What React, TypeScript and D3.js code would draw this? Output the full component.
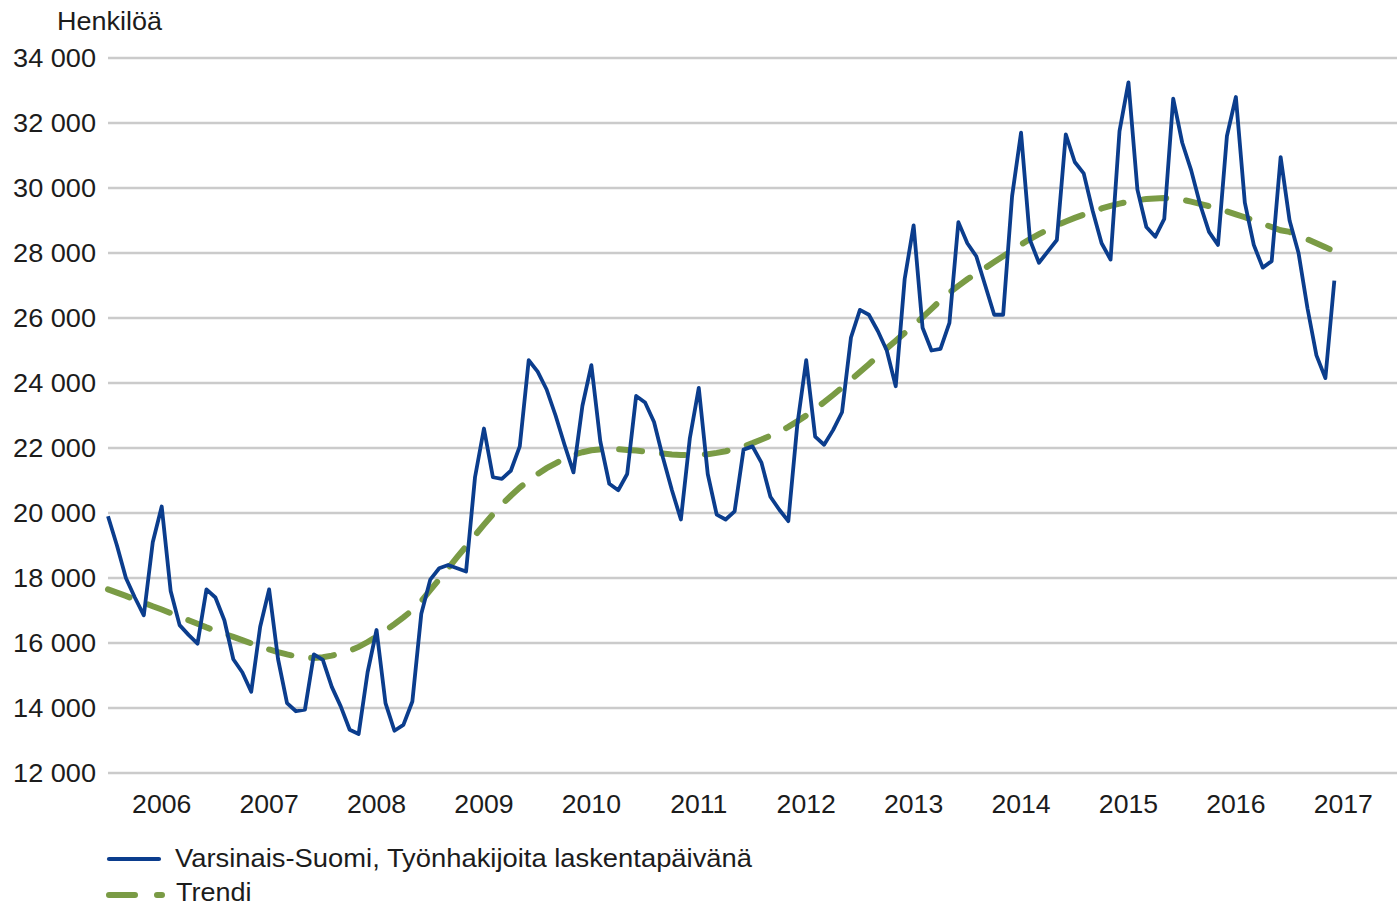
import React from "react";
import * as d3 from "d3";

const years = ["2006","2007","2008","2009","2010","2011","2012","2013","2014","2015","2016","2017"];
const yTicks = [12000,14000,16000,18000,20000,22000,24000,26000,28000,30000,32000,34000];
const seriesNames = ["Varsinais-Suomi, Työnhakijoita laskentapäivänä", "Trendi"];
const yLabel = "Henkilöä";

// Monthly values Jan 2006 – Jun 2017
const jobSeekers = [
  19900,19000,18000,17400,16850,19100,20200,17600,16550,16250,15980,17650,
  17400,16700,15500,15100,14500,16500,17650,15500,14150,13900,13950,15650,
  15480,14650,14050,13330,13200,15100,16400,14150,13300,13480,14200,16900,
  17950,18300,18400,18300,18200,21100,22600,21100,21050,21300,22050,24700,
  24350,23800,23000,22100,21250,23300,24550,22200,20900,20700,21200,23600,
  23400,22800,21700,20700,19800,22300,23850,21200,19950,19800,20050,21950,
  22050,21550,20500,20100,19750,22700,24700,22350,22100,22550,23100,25400,
  26250,26100,25600,25000,23900,27200,28850,25700,25000,25050,25850,28950,
  28300,27900,27000,26100,26100,29750,31700,28400,27700,28050,28400,31650,
  30800,30450,29300,28300,27800,31750,33250,29950,28800,28500,29050,32750,
  31400,30550,29500,28650,28250,31600,32800,29550,28250,27550,27750,30950,
  29000,28000,26300,24850,24150,27150
];

const trend = [
  17650,17550,17450,17340,17240,17130,17030,16920,16810,16700,16590,16480,
  16380,16280,16190,16090,15990,15890,15800,15720,15650,15590,15550,15540,
  15560,15610,15680,15760,15880,16030,16200,16380,16580,16790,17010,17290,
  17630,17960,18300,18640,18970,19310,19640,19960,20260,20530,20780,21000,
  21200,21380,21530,21680,21790,21870,21930,21960,21970,21960,21940,21920,
  21890,21860,21830,21800,21785,21780,21790,21810,21850,21900,21970,22050,
  22150,22260,22380,22500,22650,22820,23000,23200,23410,23630,23860,24100,
  24340,24580,24820,25065,25300,25540,25780,26020,26280,26540,26780,26990,
  27190,27370,27540,27720,27900,28080,28260,28430,28580,28720,28850,28970,
  29080,29180,29280,29370,29450,29520,29580,29630,29660,29680,29690,29680,
  29640,29580,29510,29440,29360,29280,29190,29100,29000,28900,28800,28700,
  28650,28530,28420,28300,28180,28050
];

const W = 1399, H = 907;
const BLUE = "#0b3d8d";
const GREEN = "#7a9b45";
const GRID = "#cbcbcb";
const TXT = "#1c1c1c";
const FONT = "'Liberation Sans', Arial, sans-serif";
const SX = 1.065;

export default function App() {
  const x = d3.scaleLinear().domain([0, 144]).range([108, 1397]);
  const y = d3.scaleLinear().domain([12000, 34000]).range([773, 58]);
  const line = d3.line<number>().x((_, i) => x(i)).y((d) => y(d));
  const fmt = (v: number) => d3.format(",")(v).replace(",", " ");

  const T = (props: { x: number; y: number; anchor?: string; sx?: number; children: any }) => (
    <text
      transform={`translate(${props.x},${props.y}) scale(${props.sx || SX},1)`}
      textAnchor={props.anchor || "start"}
      fontFamily={FONT}
      fontSize={25}
      fill={TXT}
    >
      {props.children}
    </text>
  );

  return (
    <svg
      width={W}
      height={H}
      style={{ position: "absolute", left: 0, top: 0, background: "#fff" }}
    >
      <rect x={0} y={0} width={W} height={H} fill="#fff" />
      {yTicks.map((t) => (
        <g key={t}>
          <line x1={108} x2={1397} y1={y(t)} y2={y(t)} stroke={GRID} strokeWidth={2.4} />
          <T x={96} y={y(t) + 8.5} anchor="end" sx={1.085}>{fmt(t)}</T>
        </g>
      ))}
      <T x={57} y={29.5} sx={1.08}>{yLabel}</T>
      {years.map((yr, i) => (
        <T key={yr} x={x(i * 12 + 6)} y={813} anchor="middle">{yr}</T>
      ))}
      <path
        d={line(trend) || ""}
        fill="none"
        stroke={GREEN}
        strokeWidth={6}
        strokeLinecap="round"
        strokeDasharray="23 20"
      />
      <path
        d={line(jobSeekers) || ""}
        fill="none"
        stroke={BLUE}
        strokeWidth={3.8}
        strokeLinejoin="round"
      />
      <line x1={109} x2={159} y1={859} y2={859} stroke={BLUE} strokeWidth={4.2} strokeLinecap="round" />
      <T x={175} y={867} sx={1.095}>{seriesNames[0]}</T>
      <line x1={109} x2={162} y1={895} y2={895} stroke={GREEN} strokeWidth={6} strokeLinecap="round" strokeDasharray="26 22" />
      <T x={176} y={901} sx={1.08}>{seriesNames[1]}</T>
    </svg>
  );
}
